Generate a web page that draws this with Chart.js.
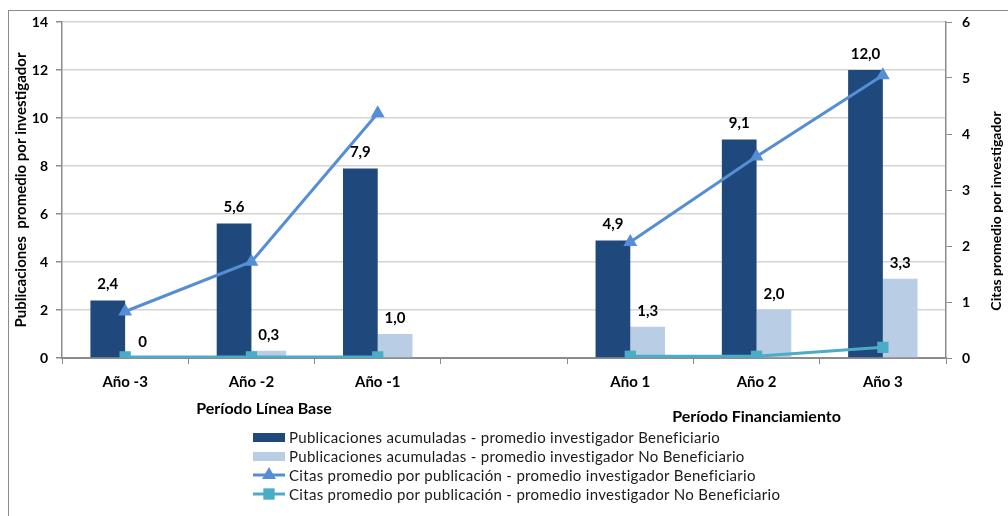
<!DOCTYPE html>
<html>
<head>
<meta charset="utf-8">
<script src="https://cdn.jsdelivr.net/npm/chart.js@4"></script>
<style>
  html, body { margin: 0; padding: 0; background: #fff; }
  #wrap { position: relative; width: 1008px; height: 516px; }
</style>
</head>
<body>
<div id="wrap"><canvas id="chart" width="1008" height="516"></canvas></div>
<script>
// Categories (the empty one separates the two periods)
const years = ['Año -3', 'Año -2', 'Año -1', '', 'Año 1', 'Año 2', 'Año 3'];
const periods = ['Período Línea Base', 'Período Financiamiento'];

// Publicaciones acumuladas (left axis)
const pubBenef = [2.4, 5.6, 7.9, null, 4.9, 9.1, 12.0];
const pubNoBenef = [0, 0.3, 1.0, null, 1.3, 2.0, 3.3];

// Citas promedio por publicación (right axis)
const citasBenef = [0.83, 1.72, 4.37, null, 2.07, 3.6, 5.05];
const citasNoBenef = [0.02, 0.02, 0.02, null, 0.03, 0.03, 0.19];

const seriesNames = [
    'Publicaciones acumuladas - promedio investigador Beneficiario',
    'Publicaciones acumuladas - promedio investigador No Beneficiario',
    'Citas promedio por publicación - promedio investigador Beneficiario',
    'Citas promedio por publicación - promedio investigador No Beneficiario'
];

const leftTitle = 'Publicaciones  promedio por investigador';
const rightTitle = 'Citas promedio por investigador';

const leftTicks = [0, 2, 4, 6, 8, 10, 12, 14];
const rightTicks = [0, 1, 2, 3, 4, 5, 6];

const FONT = 'Lato, "Open Sans", sans-serif';

function fmt(v) {
    if (v === 0) return '0';
    return v.toFixed(1).replace('.', ',');
}

// frame, value labels, period labels, right title and the stacked legend
const extras = {
    id: 'extras',
    beforeDraw(chart) {
        const ctx = chart.ctx;
        ctx.save();
        ctx.strokeStyle = '#8c8c8c';
        ctx.lineWidth = 1;
        ctx.strokeRect(8.5, 10.5, 1100, 600);
        ctx.restore();
    },
    afterDraw(chart) {
        const ctx = chart.ctx;
        const x = chart.scales.x;
        ctx.save();

        // value labels over the bars
        ctx.font = 'bold 15px ' + FONT;
        ctx.fillStyle = '#000';
        ctx.textAlign = 'center';
        ctx.textBaseline = 'middle';
        [0, 1].forEach(function(di) {
            const meta = chart.getDatasetMeta(di);
            meta.data.forEach(function(bar, i) {
                const v = chart.data.datasets[di].data[i];
                if (v === null) return;
                ctx.fillText(fmt(v), bar.x, bar.y - 16);
            });
        });

        // period labels under the category labels
        ctx.font = 'bold 16px ' + FONT;
        const step = x.getPixelForValue(1) - x.getPixelForValue(0);
        ctx.fillText(periods[0], x.getPixelForValue(1) + step * 0.1, 409);
        ctx.fillText(periods[1], x.getPixelForValue(5), 417);

        // right axis title, reading bottom to top like the left one
        ctx.save();
        ctx.translate(996, 211);
        ctx.rotate(-Math.PI / 2);
        ctx.font = 'bold 14px ' + FONT;
        ctx.fillText(rightTitle, 0, 0);
        ctx.restore();

        // legend, one entry per row
        ctx.font = '15px ' + FONT;
        if ('letterSpacing' in ctx) ctx.letterSpacing = '0.3px';
        ctx.textAlign = 'left';
        const rowY = [437, 456, 475, 494];
        chart.data.datasets.forEach(function(ds, i) {
            const y = rowY[i];
            if (ds.type === 'line') {
                ctx.strokeStyle = ds.borderColor;
                ctx.lineWidth = 3;
                ctx.beginPath();
                ctx.moveTo(253, y);
                ctx.lineTo(285, y);
                ctx.stroke();
                ctx.fillStyle = ds.backgroundColor;
                Chart.helpers.drawPoint(ctx, {
                    pointStyle: ds.pointStyle,
                    radius: ds.pointRadius,
                    rotation: 0,
                    borderWidth: 0
                }, 269, y);
            } else {
                ctx.fillStyle = ds.backgroundColor;
                ctx.fillRect(253, y - 4, 32, 9);
            }
            ctx.fillStyle = '#1a1a1a';
            ctx.fillText(ds.label, 289, y + 1);
        });
        ctx.restore();
    }
};

new Chart(document.getElementById('chart'), {
    type: 'bar',
    data: {
        labels: years,
        datasets: [{
            label: seriesNames[0],
            data: pubBenef,
            backgroundColor: '#1F497D',
            yAxisID: 'y',
            order: 2
        }, {
            label: seriesNames[1],
            data: pubNoBenef,
            backgroundColor: '#B9CDE5',
            yAxisID: 'y',
            order: 2
        }, {
            type: 'line',
            label: seriesNames[2],
            data: citasBenef,
            borderColor: '#558ED5',
            backgroundColor: '#558ED5',
            borderWidth: 3,
            pointStyle: 'triangle',
            pointRadius: 8,
            pointBorderWidth: 0,
            spanGaps: false,
            yAxisID: 'y1',
            order: 1
        }, {
            type: 'line',
            label: seriesNames[3],
            data: citasNoBenef,
            borderColor: '#4BACC6',
            backgroundColor: '#4BACC6',
            borderWidth: 3,
            pointStyle: 'rect',
            pointRadius: 8,
            pointBorderWidth: 0,
            spanGaps: false,
            yAxisID: 'y1',
            order: 0
        }]
    },
    options: {
        responsive: false,
        animation: false,
        categoryPercentage: 0.55,
        barPercentage: 1.0,
        layout: { padding: { left: 9, top: 22, right: 0, bottom: 118 } },
        plugins: {
            legend: { display: false },
            tooltip: { enabled: false }
        },
        scales: {
            x: {
                afterFit: function(s) { s.height = 40; },
                grid: { drawOnChartArea: false, drawTicks: true, tickLength: 6, color: '#8c8c8c', offset: true },
                border: { color: '#8c8c8c', width: 2 },
                ticks: { font: { family: FONT, size: 15, weight: 'bold' }, color: '#000', padding: 9 }
            },
            y: {
                position: 'left',
                min: 0,
                max: 14,
                afterFit: function(s) { s.width = 53; },
                afterBuildTicks: function(s) { s.ticks = leftTicks.map(function(v) { return { value: v }; }); },
                grid: { color: '#d4d4d4', lineWidth: 1.5, tickColor: '#8c8c8c', tickLength: 6 },
                border: { color: '#8c8c8c', width: 1.5 },
                ticks: { font: { family: FONT, size: 14, weight: 'bold' }, color: '#000', padding: 8 },
                title: {
                    display: true,
                    text: leftTitle,
                    font: { family: FONT, size: 15, weight: 'bold' },
                    color: '#000',
                    padding: 3
                }
            },
            y1: {
                position: 'right',
                min: 0,
                max: 6,
                afterFit: function(s) { s.width = 62; },
                afterBuildTicks: function(s) { s.ticks = rightTicks.map(function(v) { return { value: v }; }); },
                grid: { drawOnChartArea: false, tickColor: '#8c8c8c', tickLength: 6 },
                border: { color: '#8c8c8c', width: 1.5 },
                ticks: { font: { family: FONT, size: 14, weight: 'bold' }, color: '#000', padding: 10 },
                title: { display: false }
            }
        }
    },
    plugins: [extras]
});
</script>
</body>
</html>
